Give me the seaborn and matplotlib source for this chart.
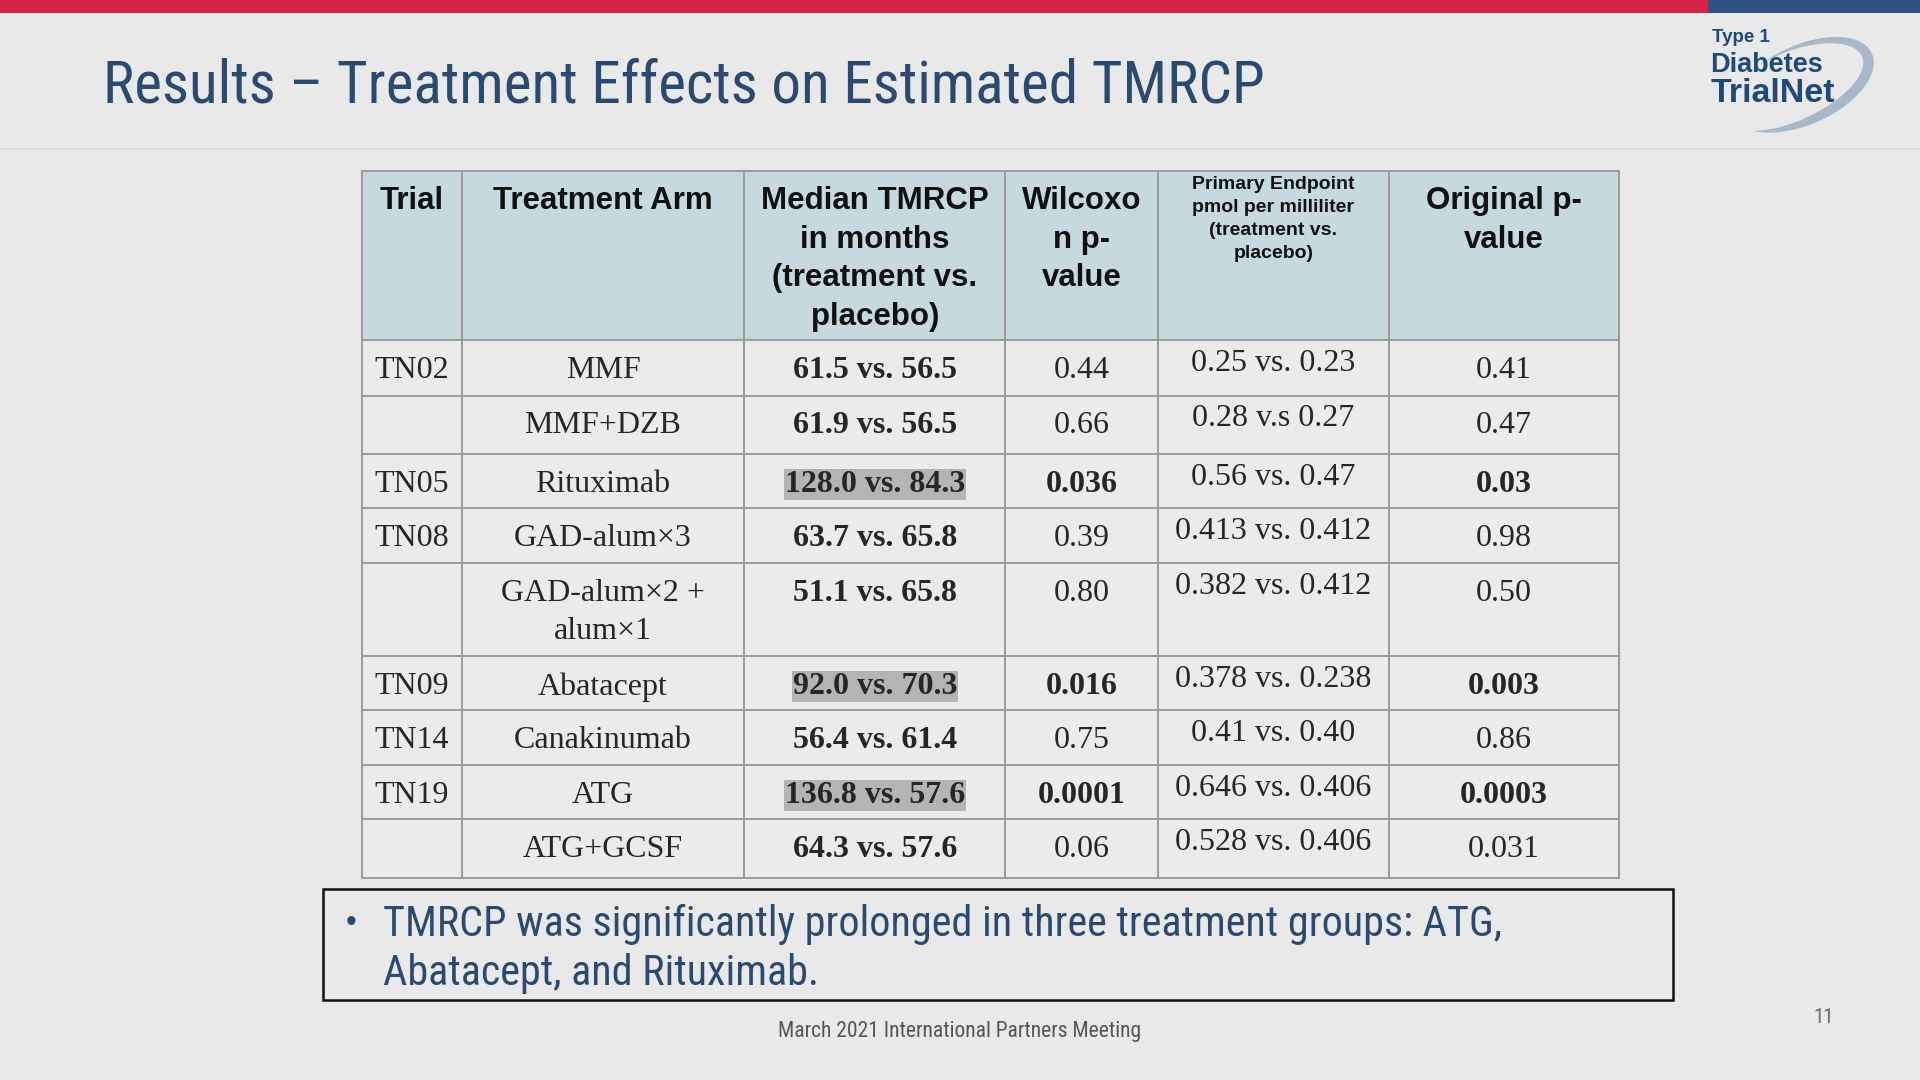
import numpy as np
import pandas as pd
import seaborn as sns
import matplotlib.pyplot as plt
from matplotlib.patches import Rectangle, Polygon

# ------ DATA ------
trials = ["TN02", "", "TN05", "TN08", "", "TN09", "TN14", "TN19", ""]
arms = ["MMF", "MMF+DZB", "Rituximab", "GAD-alum×3", "GAD-alum×2 +\nalum×1",
        "Abatacept", "Canakinumab", "ATG", "ATG+GCSF"]
median_tmrcp = ["61.5 vs. 56.5", "61.9 vs. 56.5", "128.0 vs. 84.3", "63.7 vs. 65.8",
                "51.1 vs. 65.8", "92.0 vs. 70.3", "56.4 vs. 61.4", "136.8 vs. 57.6",
                "64.3 vs. 57.6"]
wilcoxon_p = ["0.44", "0.66", "0.036", "0.39", "0.80", "0.016", "0.75", "0.0001", "0.06"]
primary_endpoint = ["0.25 vs. 0.23", "0.28 v.s 0.27", "0.56 vs. 0.47", "0.413 vs. 0.412",
                    "0.382 vs. 0.412", "0.378 vs. 0.238", "0.41 vs. 0.40",
                    "0.646 vs. 0.406", "0.528 vs. 0.406"]
original_p = ["0.41", "0.47", "0.03", "0.98", "0.50", "0.003", "0.86", "0.0003", "0.031"]
significant = [False, False, True, False, False, True, False, True, False]

headers = ["Trial", "Treatment Arm", "Median TMRCP\nin months\n(treatment vs.\nplacebo)",
           "Wilcoxo\nn p-\nvalue",
           "Primary Endpoint\npmol per milliliter\n(treatment vs.\nplacebo)",
           "Original p-\nvalue"]

title = "Results – Treatment Effects on Estimated TMRCP"
bullet = "TMRCP was significantly prolonged in three treatment groups: ATG,\nAbatacept, and Rituximab."
footer = "March 2021 International Partners Meeting"
page = "11"

table = pd.DataFrame({
    "trial": trials, "arm": arms, "median": median_tmrcp, "wilcoxon": wilcoxon_p,
    "primary": primary_endpoint, "original": original_p, "sig": significant,
})

# ------ STYLE ------
bg = "#E9E9E9"
navy = "#2B4A6F"
grid = "#9A9A9A"
head_fill = "#C5D9DE"

sns.set_theme(style="white", rc={"figure.facecolor": bg, "axes.facecolor": bg})
narrow = ["Roboto Condensed", "Liberation Sans Narrow", "DejaVu Sans"]
sans = ["Liberation Sans", "DejaVu Sans"]
serif = ["Liberation Serif", "DejaVu Serif"]

fig = plt.figure(figsize=(19.2, 10.8), dpi=100)
ax = fig.add_axes([0, 0, 1, 1])
ax.set_xlim(0, 1568)   # layout units of the slide
ax.set_ylim(882, 0)
ax.axis("off")

# top bars and header rule
ax.add_patch(Rectangle((0, 0), 1395, 11, color="#D32447", lw=0))
ax.add_patch(Rectangle((1395, 0), 173, 11, color="#2C5481", lw=0))
ax.plot([0, 1568], [122, 122], color="#DCDCDC", lw=1.5)

# logo
t = np.linspace(0.78 * np.pi, -0.62 * np.pi, 120)
u = (t - t[0]) / (t[-1] - t[0])
thick = 9 * np.sin(np.pi * u ** 0.8)
phi = np.radians(-24)
cx, cy, a, b = 1468, 70, 62, 30
def ell(tt, aa, bb):
    x = cx + aa * np.cos(tt) * np.cos(phi) - bb * np.sin(tt) * np.sin(phi)
    y = cy + aa * np.cos(tt) * np.sin(phi) + bb * np.sin(tt) * np.cos(phi)
    return x, y
xo, yo = ell(t, a + thick / 2, b + thick / 2)
xi, yi = ell(t, a - thick / 2, b - thick / 2)
ax.add_patch(Polygon(np.column_stack([np.r_[xo, xi[::-1]], np.r_[yo, yi[::-1]]]),
                     color="#A9B8C6", lw=0, zorder=1))
ax.text(1398, 31, "Type 1", fontsize=13.5, fontweight="bold", color="#1D4A77",
        family=sans, va="center", zorder=2)
ax.text(1397, 53, "Diabetes", fontsize=19.5, fontweight="bold", color="#1D4A77",
        family=sans, va="center", zorder=2)
ax.text(1397, 76, "TrialNet", fontsize=24.5, fontweight="bold", color="#1D4A77",
        family=sans, va="center", zorder=2)

# title
ax.text(84, 70, title, fontsize=42.6, color=navy, family=narrow, fontstretch="condensed",
        va="center")

# ------ TABLE ------
col_edges = [296, 377, 608, 821, 946, 1134, 1322]
row_edges = [140, 278, 323, 371, 415, 460, 536, 580, 625, 669, 717]
centers = [(col_edges[i] + col_edges[i + 1]) / 2 for i in range(6)]

ax.add_patch(Rectangle((col_edges[0], row_edges[0]), col_edges[-1] - col_edges[0],
                       row_edges[1] - row_edges[0], color=head_fill, lw=0))
ax.add_patch(Rectangle((col_edges[0], row_edges[1]), col_edges[-1] - col_edges[0],
                       row_edges[-1] - row_edges[1], color="#EBEBEB", lw=0))
for x in col_edges:
    ax.plot([x, x], [row_edges[0], row_edges[-1]], color=grid, lw=1.4)
for y in row_edges:
    ax.plot([col_edges[0], col_edges[-1]], [y, y], color=grid, lw=1.4)

for j, h in enumerate(headers):
    small = j == 4
    ax.text(centers[j], row_edges[0] + (3.5 if small else 12), h,
            fontsize=14 if small else 22.5, fontweight="bold", family=sans,
            ha="center", va="top", linespacing=1.48 if small else 1.37, color="#111111")

body_fs = 23
for i, row in table.iterrows():
    top = row_edges[i + 1]
    y = top + 13
    ax.text(centers[0], y, row.trial, fontsize=body_fs, family=serif, ha="center", va="top")
    ax.text(centers[1], y, row.arm, fontsize=body_fs, family=serif, ha="center", va="top",
            linespacing=1.42)
    box = dict(boxstyle="square,pad=0.03", fc="#B4B4B4", ec="none") if row.sig else None
    ax.text(centers[2], y, row["median"], fontsize=body_fs, family=serif, fontweight="bold",
            ha="center", va="top", bbox=box)
    ax.text(centers[3], y, row.wilcoxon, fontsize=body_fs, family=serif,
            fontweight="bold" if row.sig else "normal", ha="center", va="top")
    ax.text(centers[4], top + 7, row.primary, fontsize=body_fs, family=serif,
            ha="center", va="top")
    ax.text(centers[5], y, row.original, fontsize=body_fs, family=serif,
            fontweight="bold" if row.sig else "normal", ha="center", va="top")

# ------ CALLOUT ------
ax.add_patch(Rectangle((264, 726), 1102, 91, fill=False, ec="#111111", lw=1.8))
ax.text(282, 754, "•", fontsize=22, color=navy, family=sans, va="center")
ax.text(313, 775, bullet, fontsize=30.3, color=navy, family=narrow, fontstretch="condensed",
        va="center", linespacing=1.24)

ax.text(784, 842, footer, fontsize=15.5, color="#555555", family=narrow,
        fontstretch="condensed", ha="center", va="center")
ax.text(1489, 831, page, fontsize=15, color="#6A6A6A", family=narrow,
        fontstretch="condensed", ha="center", va="center")

fig.savefig("out.png", dpi=100, facecolor=bg)
